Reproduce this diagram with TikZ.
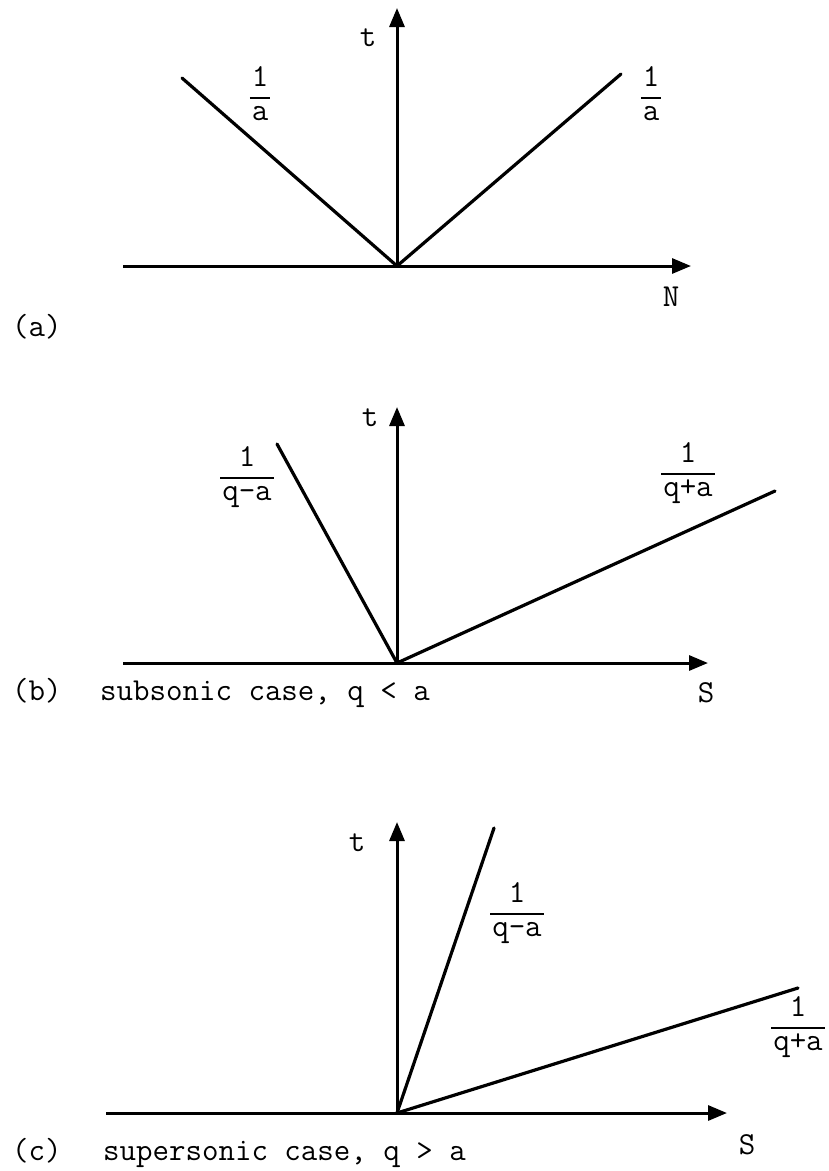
\documentclass[tikz,border=0pt]{standalone}
\usetikzlibrary{arrows.meta}
\setlength{\arrayrulewidth}{1.6pt}
\newcommand{\slope}[1]{{\renewcommand{\arraystretch}{0.8}%
  \begin{tabular}{@{\hspace{2pt}}c@{\hspace{2pt}}}1\\[2pt]\hline #1\end{tabular}}}

\begin{document}
\begin{tikzpicture}[
  x=1pt, y=-1pt,
  >={Triangle[length=19pt,width=15pt]},
  axis/.style={->,line width=3pt},
  ray/.style={line width=3.2pt,line cap=round},
  lbl/.style={font=\fontsize{32}{38}\selectfont\ttfamily,inner sep=0pt}
]
  \useasboundingbox (0,0) rectangle (829,1171);

  % (a)
  \coordinate (oa) at (397,266);
  \coordinate (xa0) at (123,266);
  \coordinate (xa1) at (691,266);
  \coordinate (ya1) at (397,8);
  \coordinate (la) at (182,78);
  \coordinate (ra) at (621,74);
  \draw[axis] (xa0) -- (xa1);
  \draw[axis] (oa) -- (ya1);
  \draw[ray] (oa) -- (la);
  \draw[ray] (oa) -- (ra);
  \node[lbl] (ta) at (368,38) {t};
  \node[lbl] (na) at (671,297) {N};
  \node[lbl] (sla) at (260,97) {\slope{a}};
  \node[lbl] (sra) at (651,97) {\slope{a}};
  \node[lbl,anchor=base west] (capa) at (12,336) {(a)};

  % (b)
  \coordinate (ob) at (397,663);
  \coordinate (xb0) at (123,663);
  \coordinate (xb1) at (708,663);
  \coordinate (yb1) at (397,407);
  \coordinate (lb) at (277,444);
  \coordinate (rb) at (775,491);
  \draw[axis] (xb0) -- (xb1);
  \draw[axis] (ob) -- (yb1);
  \draw[ray] (ob) -- (lb);
  \draw[ray] (ob) -- (rb);
  \node[lbl] (tb) at (370,418) {t};
  \node[lbl] (sb) at (706,693) {S};
  \node[lbl] (slb) at (247,477) {\slope{q-a}};
  \node[lbl] (srb) at (688,473) {\slope{q+a}};
  \node[lbl,anchor=base west] (capb) at (12,700) {(b)};
  \node[lbl,anchor=base west] (txtb) at (100,700) {subsonic case, q < a};

  % (c)
  \coordinate (oc) at (397,1113);
  \coordinate (xc0) at (106,1113);
  \coordinate (xc1) at (727,1113);
  \coordinate (yc1) at (397,822);
  \coordinate (lc) at (494,828);
  \coordinate (rc) at (798,988);
  \draw[axis] (xc0) -- (xc1);
  \draw[axis] (oc) -- (yc1);
  \draw[ray] (oc) -- (lc);
  \draw[ray] (oc) -- (rc);
  \node[lbl] (tc) at (357,843) {t};
  \node[lbl] (sc) at (747,1145) {S};
  \node[lbl] (slc) at (517,913) {\slope{q-a}};
  \node[lbl] (src) at (798,1027) {\slope{q+a}};
  \node[lbl,anchor=base west] (capc) at (12,1160) {(c)};
  \node[lbl,anchor=base west] (txtc) at (103,1160) {supersonic case, q > a};
\end{tikzpicture}
\end{document}
